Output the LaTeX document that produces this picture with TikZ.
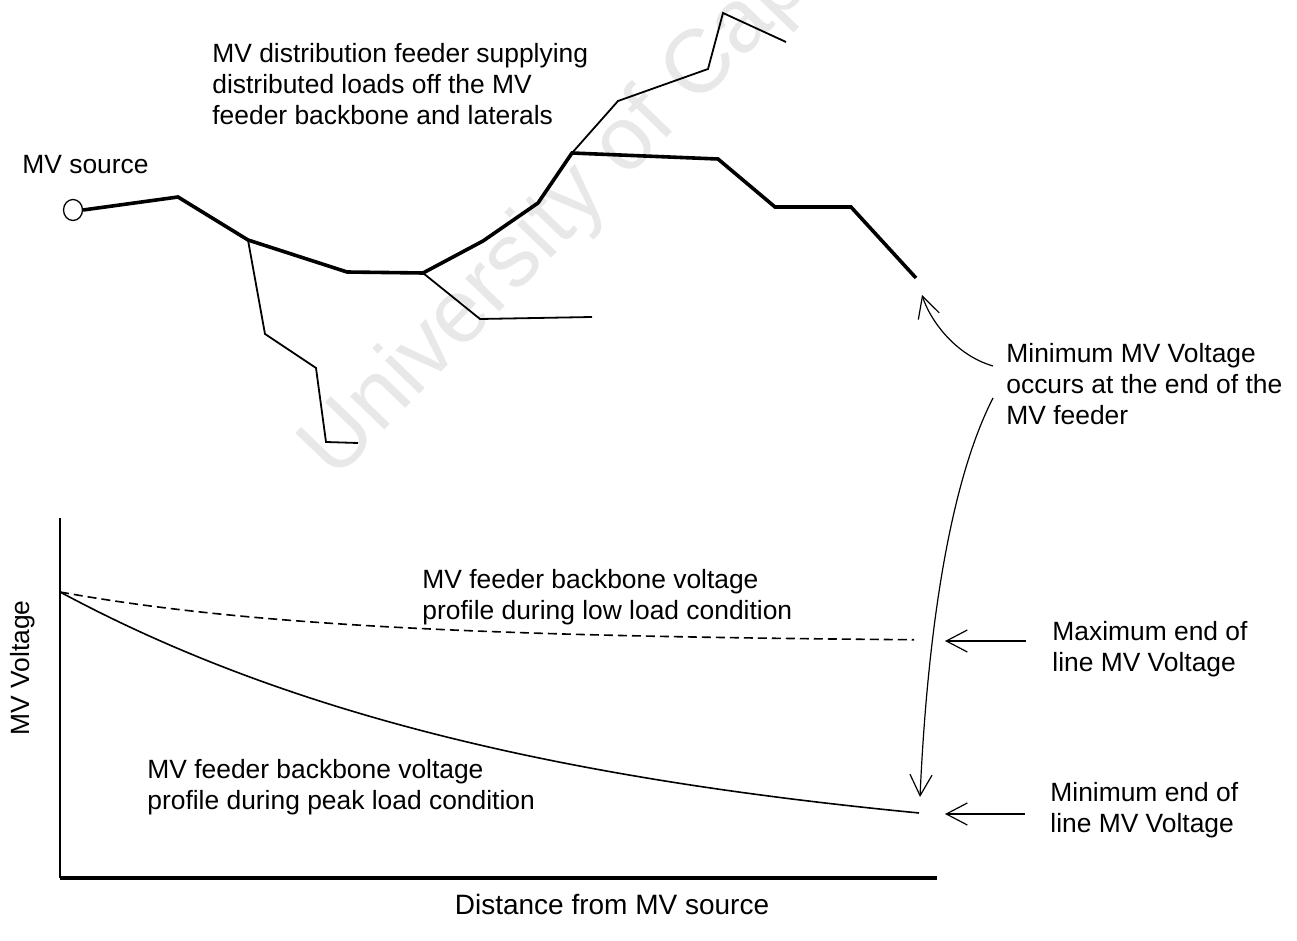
\documentclass[tikz,border=0pt]{standalone}
\usepackage{fontspec}
\setmainfont{Liberation Sans}
\usetikzlibrary{arrows.meta,shapes.geometric}
\begin{document}
\begin{tikzpicture}[x=0.5pt, y=-0.5pt,
  % multi-line labels are placed by the baseline of their last line
  lbl/.style={font=\fontsize{13.2}{15.5}\selectfont, align=left, anchor=base west, inner sep=0pt},
  backbone/.style={line width=1.8pt},
  lateral/.style={line width=0.9pt},
  profile/.style={line width=0.8pt},
  pointer/.style={line width=0.6pt, -{Straight Barb[length=10.5pt,width=11pt]}},
]
\useasboundingbox (0,0) rectangle (1297,941);

% faint repository watermark behind the drawing
\begin{scope}
  \clip (0,0) rectangle (1297,941);
  \node[anchor=base west, inner sep=0pt, rotate=46, text=black!9,
        font=\fontsize{45}{54}\selectfont] (wm) at (335,482) {University of Cape Town};
\end{scope}

% ---------- feeder layout ----------
\node[draw, ellipse, line width=0.65pt, minimum width=9.5pt, minimum height=10.5pt,
      inner sep=0pt] (src) at (73,210) {};
\node[lbl] (srclbl) at (22,174) {MV source};

\coordinate (b1) at (178,197);
\coordinate (b2) at (248,240);
\coordinate (b3) at (347,272);
\coordinate (b4) at (423,273);
\coordinate (b5) at (483,241);
\coordinate (b6) at (538,203);
\coordinate (b7) at (572,153);
\coordinate (b8) at (620,155);
\coordinate (b9) at (718,159);
\coordinate (b10) at (775,207);
\coordinate (b11) at (851,207);
\coordinate (feedend) at (916,278);

\draw[backbone] (src.east) -- (b1) -- (b2) -- (b3) -- (b4) -- (b5) -- (b6)
  -- (b7) -- (b8) -- (b9) -- (b10) -- (b11) -- (feedend);

% laterals
\coordinate (l1a) at (265,334);
\coordinate (l1b) at (316,368);
\coordinate (l1c) at (326,442);
\coordinate (l1d) at (358,443);
\draw[lateral] (b2) -- (l1a) -- (l1b) -- (l1c) -- (l1d);

\coordinate (l2a) at (480,319);
\coordinate (l2b) at (592,317);
\draw[lateral] (b4) -- (l2a) -- (l2b);

\coordinate (l3a) at (618,101);
\coordinate (l3b) at (708,69);
\coordinate (l3c) at (723,13);
\coordinate (l3d) at (786,42);
\draw[lateral] (b7) -- (l3a) -- (l3b) -- (l3c) -- (l3d);

\node[lbl] (feederlbl) at (212,125)
  {MV distribution feeder supplying\\distributed loads off the MV\\feeder backbone and laterals};

\node[lbl] (minlbl) at (1006,424)
  {Minimum MV Voltage\\occurs at the end of the\\MV feeder};

% ---------- voltage profile chart ----------
\coordinate (O) at (60,878);
\coordinate (ytop) at (60,518);
\coordinate (xend) at (937,878);
\draw[line width=1.1pt] (O) -- (ytop);
\draw[line width=1.6pt] (O) -- (xend);

\draw[profile, dash pattern=on 4.5pt off 2.5pt]
  plot[domain=60:914, samples=70] (\x, {642-50*exp(-(\x-60)/275)});
\draw[profile]
  plot[domain=60:919, samples=70] (\x, {861.3-269.3*exp(-(\x-60)/500)});

\node[lbl] (lowlbl) at (422,619)
  {MV feeder backbone voltage\\profile during low load condition};
\node[lbl] (peaklbl) at (147,809)
  {MV feeder backbone voltage\\profile during peak load condition};

\node[lbl] (maxendlbl) at (1052,671) {Maximum end of\\line MV Voltage};
\node[lbl] (minendlbl) at (1050,832) {Minimum end of\\line MV Voltage};

\node[font=\fontsize{13.2}{15.5}\selectfont, rotate=90, anchor=base, inner sep=0pt]
  (ylbl) at (29,668) {MV Voltage};
\node[font=\fontsize{14}{16.5}\selectfont, anchor=base, inner sep=0pt]
  (xlbl) at (612,914) {Distance from MV source};

% ---------- pointers ----------
\coordinate (tailA) at (993,366);
\coordinate (tipA) at (922,295);
\draw[pointer] (tailA) .. controls (955,355) and (930,320) .. (tipA);

\coordinate (tailB) at (993,398);
\coordinate (tipB) at (920,797);
\draw[pointer] (tailB) .. controls (952,478) and (928,620) .. (tipB);

\coordinate (maxtail) at (1026,641);
\coordinate (maxtip) at (945,641);
\draw[pointer] (maxtail) -- (maxtip);

\coordinate (mintail) at (1025,814);
\coordinate (mintip) at (945,814);
\draw[pointer] (mintail) -- (mintip);
\end{tikzpicture}
\end{document}
